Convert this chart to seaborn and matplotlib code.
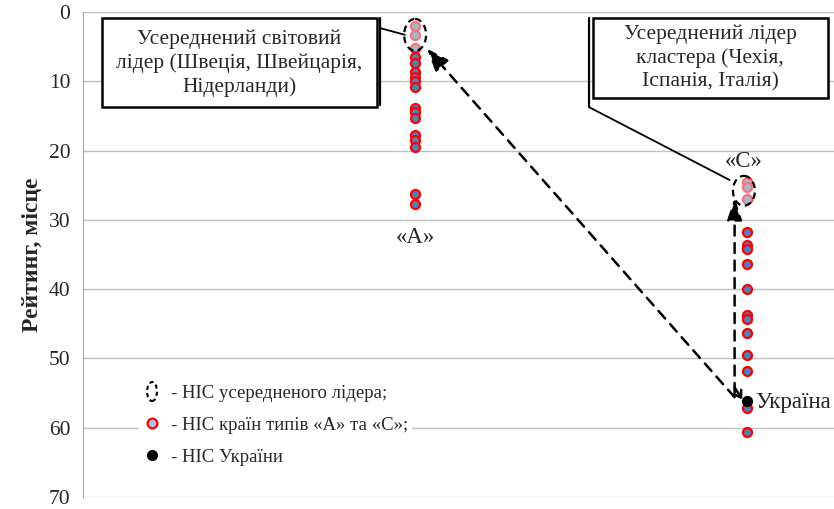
import pandas as pd
import matplotlib.pyplot as plt
import seaborn as sns
from matplotlib.patches import Ellipse, Rectangle
from matplotlib.legend_handler import HandlerPatch
from matplotlib.lines import Line2D

# Позиції кластерів на осі X та рейтинги країн
group_x = [1, 2]
group_labels = ['«А»', '«С»']
rank_a = [2.0, 3.3, 5.2, 6.5, 7.4, 8.6, 9.4, 10.0, 10.8, 13.8, 14.5, 15.3,
          17.8, 18.5, 19.5, 26.3, 27.7]
rank_c = [24.6, 25.2, 27.0, 31.7, 33.6, 34.2, 36.3, 40.0, 43.8, 44.3, 46.4,
          49.5, 51.8, 57.2, 60.6]
ukraine_rank = 56.2
leader_a = 3.3   # центр усередненого світового лідера
leader_c = 25.8  # центр усередненого лідера кластера

df = pd.DataFrame({
    'x': [group_x[0]] * len(rank_a) + [group_x[1]] * len(rank_c),
    'rank': rank_a + rank_c,
})

sns.set_style("white")
plt.rcParams['font.family'] = ['Liberation Serif', 'DejaVu Serif']
plt.rcParams['font.size'] = 15

fig = plt.figure(figsize=(8.34, 5.09), dpi=100)
ax = fig.add_axes([0.0995, 0.0236, 0.9, 0.9528])

sns.scatterplot(data=df, x='x', y='rank', color='#4f81bd', edgecolor='red',
                s=42, linewidth=1.6, zorder=3, ax=ax)
ax.scatter([group_x[1]], [ukraine_rank], s=50, color='black', zorder=4)

ax.set_xlim(0, 2.26)
ax.set_ylim(70, 0)
ax.set_yticks(range(0, 71, 10))
ax.set_xticks([])
ax.set_xlabel('')
ax.set_ylabel('Рейтинг, місце', fontsize=17, fontweight='bold')
ax.yaxis.set_label_coords(-0.053, 0.5)
ax.tick_params(axis='y', length=0, pad=9, labelsize=15.5)
ax.yaxis.grid(True, color='#bfbfbf', lw=1)
ax.set_axisbelow(True)
for s in ['top', 'right', 'bottom']:
    ax.spines[s].set_visible(False)
ax.spines['left'].set_color('#a6a6a6')

# Еліпси усереднених лідерів
for cx, cy, h in [(group_x[0], leader_a, 4.6), (group_x[1] - 0.01, leader_c, 4.3)]:
    ax.add_patch(Ellipse((cx, cy), 0.066, h, facecolor=(1, 1, 1, 0.45),
                         edgecolor='black', ls=(0, (3, 2)), lw=1.6, zorder=5))

# Підписи кластерів та України
ax.text(group_x[0], 32.5, group_labels[0], ha='center', va='center', fontsize=16.5)
ax.text(group_x[1] - 0.01, 21.6, group_labels[1], ha='center', va='center', fontsize=16.5)
ax.text(group_x[1] + 0.025, 56.4, 'Україна', ha='left', va='center', fontsize=16.5)

# Пунктирні стрілки
ax.annotate('', xy=(1.036, 5.3), xytext=(1.962, 55.6),
            arrowprops=dict(arrowstyle='-|>,head_length=0.9,head_width=0.35', ls=(0, (4, 3)),
                            lw=1.8, color='black', shrinkA=0, shrinkB=0), zorder=6)
ax.annotate('', xy=(1.962, 26.8), xytext=(1.962, 55.0),
            arrowprops=dict(arrowstyle='-|>,head_length=0.9,head_width=0.3', ls=(0, (4, 3)),
                            lw=1.8, color='black', shrinkA=0, shrinkB=0), zorder=6)
ax.annotate('', xy=(1.985, 55.9), xytext=(1.962, 54.2),
            arrowprops=dict(arrowstyle='->,head_length=0.3,head_width=0.2',
                            lw=1.8, color='black', shrinkA=0, shrinkB=0), zorder=6)

# Виноски з рамками
tr = ax.transAxes
ax.add_patch(Rectangle((0.0253, 0.804), 0.3662, 0.1836, transform=tr, fill=True,
                       facecolor='white', edgecolor='black', lw=1.8, zorder=7, clip_on=False))
ax.plot([0.3955, 0.3955], [0.9876, 0.808], transform=tr, color='black', lw=1.6, zorder=7)
ax.plot([0.3955, 0.4288], [0.967, 0.953], transform=tr, color='black', lw=1.3, zorder=7)
ax.text(0.208, 0.895, 'Усереднений світовий\nлідер (Швеція, Швейцарія,\nНідерланди)',
        transform=tr, ha='center', va='center', fontsize=15.5, linespacing=1.3, zorder=8)

ax.add_patch(Rectangle((0.679, 0.8227), 0.313, 0.1649, transform=tr, fill=True,
                       facecolor='white', edgecolor='black', lw=1.8, zorder=7, clip_on=False))
ax.plot([0.674, 0.674], [0.9876, 0.804], transform=tr, color='black', lw=1.6, zorder=7)
ax.plot([0.674, 0.8615], [0.804, 0.6536], transform=tr, color='black', lw=1.3, zorder=7)
ax.text(0.8355, 0.905, 'Усереднений лідер\nкластера (Чехія,\nІспанія, Італія)',
        transform=tr, ha='center', va='center', fontsize=15.5, linespacing=1.3, zorder=8)


class HandlerEllipse(HandlerPatch):
    def create_artists(self, legend, orig_handle, xdescent, ydescent, width, height, fontsize, trans):
        center = 0.5 * width - 0.5 * xdescent, 0.5 * height - 0.5 * ydescent
        p = Ellipse(xy=center, width=height * 0.75, height=height * 1.45)
        self.update_prop(p, orig_handle, legend)
        p.set_transform(trans)
        return [p]


handles = [
    Ellipse((0, 0), 1, 1, facecolor='white', edgecolor='black', ls=(0, (2, 1.5)), lw=1.5),
    Line2D([], [], ls='', marker='o', ms=7, mfc='#a9c4eb', mec='red', mew=1.6),
    Line2D([], [], ls='', marker='o', ms=7, mfc='black', mec='black'),
]
labels = ['- НІС усередненого лідера;', '- НІС країн типів «А» та «С»;', '- НІС України']
leg = ax.legend(handles, labels, loc='upper left', bbox_to_anchor=(0.062, 0.258),
                handler_map={Ellipse: HandlerEllipse()}, frameon=True, fancybox=False,
                edgecolor='none', facecolor='white', framealpha=1, fontsize=13.5,
                handlelength=1.0, handletextpad=0.5, labelspacing=0.78, borderpad=0.2)
leg.set_zorder(6)

fig.savefig('out.png', dpi=100)
